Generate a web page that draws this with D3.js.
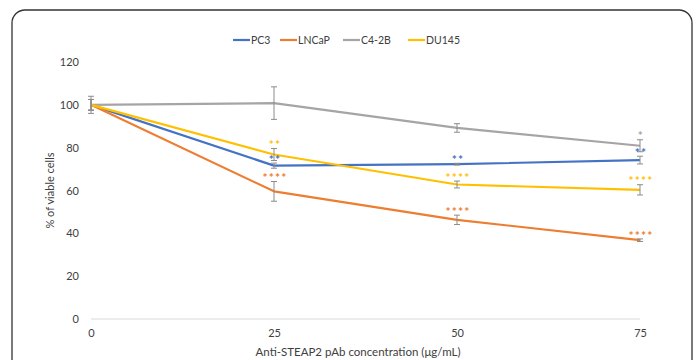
<!DOCTYPE html>
<html><head><meta charset="utf-8">
<script src="https://cdn.jsdelivr.net/npm/d3@7"></script>
<style>body{margin:0;background:#fff;}svg{display:block;font-family:Lato,"Open Sans",sans-serif;}</style>
</head><body>
<svg id="c" width="696" height="360"></svg>
<script>
const concentrations = [0, 25, 50, 75];
const seriesNames = ["PC3", "LNCaP", "C4-2B", "DU145"];
const seriesColors = ["#4472C4", "#ED7D31", "#A5A5A5", "#FFC000"];
const pc3 = [100, 71.6, 72.3, 74.2];
const lncap = [100, 59.6, 46.3, 36.8];
const c42b = [100, 100.8, 89.2, 80.9];
const du145 = [100, 76.8, 62.8, 60.3];
const pc3Err = [2.5, 1.2, 0.4, 1.8];
const lncapErr = [2.5, 4.6, 2.2, 0.6];
const c42bErr = [4.0, 7.6, 2.0, 2.8];
const du145Err = [2.5, 2.8, 1.6, 2.4];
const pc3Sig = ["", "**", "**", "**"];
const lncapSig = ["", "****", "****", "****"];
const c42bSig = ["", "", "", "*"];
const du145Sig = ["", "**", "****", "****"];
const yTicks = [0, 20, 40, 60, 80, 100, 120];

const series = [
  {name: seriesNames[0], color: seriesColors[0], v: pc3, e: pc3Err, s: pc3Sig},
  {name: seriesNames[1], color: seriesColors[1], v: lncap, e: lncapErr, s: lncapSig},
  {name: seriesNames[2], color: seriesColors[2], v: c42b, e: c42bErr, s: c42bSig},
  {name: seriesNames[3], color: seriesColors[3], v: du145, e: du145Err, s: du145Sig}
];

const svg = d3.select("#c");
// outer rounded frame
svg.append("rect").attr("x", 12).attr("y", 10).attr("width", 680).attr("height", 420)
  .attr("rx", 13).attr("fill", "none").attr("stroke", "#333").attr("stroke-width", 1.3);

const x = d3.scaleLinear().domain([0, 75]).range([91, 640]);
const y = d3.scaleLinear().domain([0, 120]).range([319, 62]);

// x axis line
svg.append("line").attr("x1", x(0)).attr("x2", x(75)).attr("y1", y(0)).attr("y2", y(0))
  .attr("stroke", "#D9D9D9").attr("stroke-width", 1);

// y tick labels
const yAx = svg.append("g").attr("transform", `translate(${x(0) - 12},0)`)
  .call(d3.axisLeft(y).tickValues(yTicks).tickSize(0).tickPadding(0));
yAx.select(".domain").remove();
yAx.selectAll("text").attr("font-size", 11).attr("fill", "#404040").attr("font-family", "Lato,sans-serif");

// x tick labels
const xAx = svg.append("g").attr("transform", `translate(0,${y(0) + 10})`)
  .call(d3.axisBottom(x).tickValues(concentrations).tickSize(0).tickPadding(0));
xAx.select(".domain").remove();
xAx.selectAll("text").attr("font-size", 11).attr("fill", "#404040").attr("font-family", "Lato,sans-serif");

// axis titles
svg.append("text").attr("x", 358).attr("y", 356).attr("text-anchor", "middle")
  .attr("font-size", 11.5).attr("fill", "#404040").text("Anti-STEAP2 pAb concentration (μg/mL)");
svg.append("text").attr("transform", `translate(54,${y(60)}) rotate(-90)`).attr("text-anchor", "middle")
  .attr("font-size", 11).attr("fill", "#404040").text("% of viable cells");

// lines
const line = d3.line().x((d, i) => x(concentrations[i])).y(d => y(d));
series.forEach(s => {
  svg.append("path").datum(s.v).attr("d", line).attr("fill", "none")
    .attr("stroke", s.color).attr("stroke-width", 2.2).attr("stroke-linejoin", "round");
});

// error bars
series.forEach(s => {
  s.v.forEach((v, i) => {
    const cx = x(concentrations[i]);
    const g = svg.append("g").attr("stroke", "#8C8C8C").attr("stroke-width", 1);
    g.append("line").attr("x1", cx).attr("x2", cx).attr("y1", y(v + s.e[i])).attr("y2", y(v - s.e[i]));
    g.append("line").attr("x1", cx - 3).attr("x2", cx + 3).attr("y1", y(v + s.e[i])).attr("y2", y(v + s.e[i]));
    g.append("line").attr("x1", cx - 3).attr("x2", cx + 3).attr("y1", y(v - s.e[i])).attr("y2", y(v - s.e[i]));
  });
});

// significance asterisks (centred ~5px above the top of the error bar)
series.forEach(s => {
  s.s.forEach((t, i) => {
    if (!t) return;
    svg.append("text").attr("x", x(concentrations[i]) + 1).attr("y", y(s.v[i] + s.e[i]) - 5 + 5.6)
      .attr("text-anchor", "middle").attr("font-size", 12).attr("font-weight", "bold")
      .attr("letter-spacing", 1.2).attr("fill", s.color).text(t);
  });
});

// legend
const legX = [233, 280, 343, 408];
series.forEach((s, i) => {
  svg.append("line").attr("x1", legX[i]).attr("x2", legX[i] + 17).attr("y1", 40).attr("y2", 40)
    .attr("stroke", s.color).attr("stroke-width", 2.2);
  svg.append("text").attr("x", legX[i] + 18).attr("y", 44).attr("font-size", 10.5)
    .attr("fill", "#404040").text(s.name);
});
</script>
</body></html>
